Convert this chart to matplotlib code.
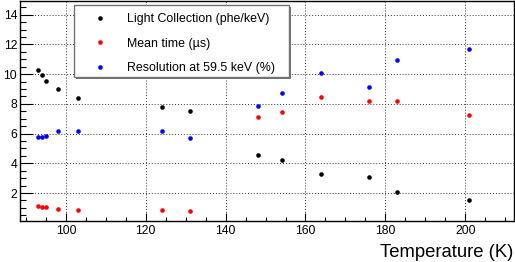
import matplotlib
matplotlib.use("Agg")
import matplotlib.pyplot as plt
from matplotlib.patches import Rectangle
from matplotlib.ticker import MultipleLocator

plt.rcParams['font.family'] = ['Liberation Sans', 'DejaVu Sans']

temperature = [93, 94, 95, 98, 103, 124, 131, 148, 154, 164, 176, 183, 201]
light_collection = [10.28, 9.96, 9.56, 9.0, 8.39, 7.8, 7.51, 4.55, 4.24, 3.27, 3.09, 2.08, 1.5]
mean_time = [1.16, 1.05, 1.05, 0.96, 0.85, 0.85, 0.76, 7.13, 7.45, 8.46, 8.17, 8.17, 7.25]
resolution = [5.76, 5.76, 5.83, 6.15, 6.15, 6.2, 5.68, 7.87, 8.75, 10.1, 9.13, 10.93, 11.69]
labels = ["Light Collection (phe/keV)", "Mean time (µs)", "Resolution at 59.5 keV (%)"]
colors = ["black", "red", "blue"]

W, H = 515, 262
fig = plt.figure(figsize=(W / 100, H / 100), dpi=100)
ax = fig.add_axes([20 / W, 1 - 221 / H, (513.5 - 20) / W, (221 - 0.5) / H])

handles = []
for vals, lab, col in zip([light_collection, mean_time, resolution], labels, colors):
    h, = ax.plot(temperature, vals, linestyle='none', marker='o', markersize=3.3,
                 color=col, markeredgewidth=0, label=lab)
    handles.append(h)

ax.set_xlim(88.5, 212.1)
ax.set_ylim(0.12, 14.96)
ax.xaxis.set_major_locator(MultipleLocator(20))
ax.xaxis.set_minor_locator(MultipleLocator(5))
ax.yaxis.set_major_locator(MultipleLocator(2))
ax.yaxis.set_minor_locator(MultipleLocator(0.5))
ax.set_yticks([2, 4, 6, 8, 10, 12, 14])
ax.tick_params(axis='both', which='both', direction='in', top=False, right=False,
               labelsize=8.7, width=0.8, color='black')
ax.tick_params(axis='y', which='major', length=9, pad=2)
ax.tick_params(axis='y', which='minor', length=4.5)
ax.tick_params(axis='x', which='major', length=6, pad=3)
ax.tick_params(axis='x', which='minor', length=3)
ax.grid(True, which='major', color='0.2', linestyle=(0, (1, 2)), linewidth=0.7)
ax.set_axisbelow(True)
for s in ax.spines.values():
    s.set_linewidth(1.0)
    s.set_color('black')

# legend box with shadow
x0, x1, yt, yb = 74, 289, 5, 77
sh = Rectangle(((x0 + 2) / W, 1 - (yb + 2) / H), (x1 - x0) / W, (yb - yt) / H,
               transform=fig.transFigure, facecolor='0.45', edgecolor='none', zorder=5)
box = Rectangle((x0 / W, 1 - yb / H), (x1 - x0) / W, (yb - yt) / H,
                transform=fig.transFigure, facecolor='white', edgecolor='0.45',
                linewidth=1.0, zorder=6)
fig.add_artist(sh)
fig.add_artist(box)
leg = fig.legend(handles=handles, loc='upper left', bbox_to_anchor=(81 / W, 1 - 13 / H),
                 bbox_transform=fig.transFigure, frameon=False, fontsize=8.9,
                 borderpad=0, borderaxespad=0, handlelength=3.06, handletextpad=0.70,
                 labelspacing=1.02, markerscale=1.0)
leg.set_zorder(7)

fig.text(513 / W, 1 - 257 / H, "Temperature (K)", ha='right', va='baseline', fontsize=13.3)

fig.savefig("out.png", dpi=100)
